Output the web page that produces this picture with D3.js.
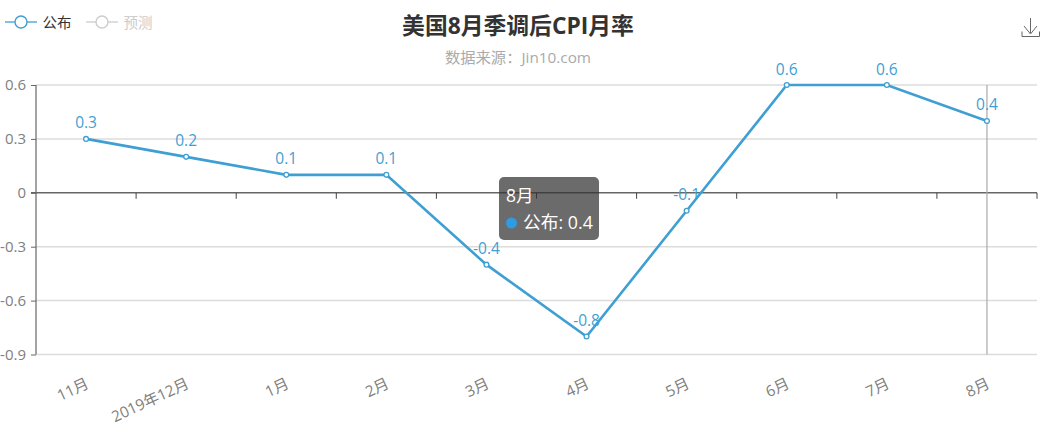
<!DOCTYPE html>
<html><head><meta charset="utf-8">
<script src="https://cdn.jsdelivr.net/npm/d3@7/dist/d3.min.js"></script>
<style>
html,body{margin:0;padding:0;background:#fff;overflow:hidden}
svg{display:block;font-family:"Open Sans","Noto Sans CJK SC",sans-serif}
</style></head><body>
<svg id="c" width="1044" height="426"></svg>
<script>
const categories=["11月","2019年12月","1月","2月","3月","4月","5月","6月","7月","8月"];
const published=[0.3,0.2,0.1,0.1,-0.4,-0.8,-0.1,0.6,0.6,0.4];
const yTicks=[0.6,0.3,0,-0.3,-0.6,-0.9];
const legendItems=["公布","预测"];
const blue="#3f9fd3";
const svg=d3.select("#c");
const x=d3.scaleBand().domain(categories).range([36,1037]);
const y=d3.scaleLinear().domain([-0.9,0.6]).range([354.5,85]);
const cx=c=>x(c)+x.bandwidth()/2;

// grid
svg.append("g").selectAll("line").data(yTicks.filter(d=>d!==0)).join("line")
  .attr("x1",36).attr("x2",1037).attr("y1",d=>y(d)).attr("y2",d=>y(d))
  .attr("stroke","#dcdcdc").attr("stroke-width",1.5);

// y axis
const yAxis=d3.axisLeft(y).tickValues(yTicks).tickSize(5).tickPadding(5).tickFormat(d=>d===0?"0":String(d.toFixed(1)));
const gy=svg.append("g").attr("transform","translate(36,0)").call(yAxis);
gy.select(".domain").attr("stroke","#666").attr("d",`M0,${y(0.6)}V${y(-0.9)}`).attr("stroke-width",1.2);
gy.selectAll(".tick line").attr("stroke","#666");
gy.selectAll("text").attr("fill","#808080").style("font-size","15px").style("font-family",'"Open Sans","Noto Sans CJK SC",sans-serif');

// zero-line x axis with boundary ticks
const zero=y(0);
const gx=svg.append("g");
gx.append("line").attr("x1",31).attr("x2",1037).attr("y1",zero).attr("y2",zero).attr("stroke","#666").attr("stroke-width",1.4);
gx.selectAll("line.t").data(categories).join("line").attr("class","t")
  .attr("x1",d=>x(d)+x.bandwidth()).attr("x2",d=>x(d)+x.bandwidth())
  .attr("y1",zero).attr("y2",zero+6).attr("stroke","#444");

// x labels
svg.append("g").selectAll("text").data(categories).join("text")
  .attr("text-anchor","end")
  .attr("transform",d=>`translate(${cx(d)},${379}) rotate(-25)`)
  .attr("dy","0.6em").attr("fill","#808080").style("font-size","15.3px").text(d=>d);

// hover guide
svg.append("line").attr("x1",cx("8月")).attr("x2",cx("8月")).attr("y1",85).attr("y2",354.5)
  .attr("stroke","#aaa").attr("stroke-width",1.2);

// series
const pts=categories.map((c,i)=>({c,v:published[i]}));
const line=d3.line().x(d=>cx(d.c)).y(d=>y(d.v));
svg.append("path").datum(pts).attr("d",line).attr("fill","none").attr("stroke",blue).attr("stroke-width",2.6);
svg.append("g").selectAll("circle").data(pts).join("circle")
  .attr("cx",d=>cx(d.c)).attr("cy",d=>y(d.v)).attr("r",2.4)
  .attr("fill","#fff").attr("stroke",blue).attr("stroke-width",1.3);
svg.append("g").selectAll("text").data(pts).join("text")
  .attr("x",d=>cx(d.c)).attr("y",d=>y(d.v)-10.5).attr("text-anchor","middle")
  .attr("fill",blue).style("font-size","15.5px").text(d=>d.v);

// title
svg.append("text").attr("x",518).attr("y",34).attr("text-anchor","middle")
  .attr("fill","#333").style("font-size","22.8px").style("font-weight","700").text("美国8月季调后CPI月率");
svg.append("text").attr("x",518).attr("y",63).attr("text-anchor","middle")
  .attr("fill","#aaa").style("font-size","15.3px").text("数据来源：Jin10.com");

// legend
const legendColors=[blue,"#ccc"];
const legendText=["#333","#ccc"];
const lg=svg.append("g").selectAll("g").data(legendItems).join("g")
  .attr("transform",(d,i)=>`translate(${5+i*81},22)`);
lg.append("line").attr("x1",0).attr("x2",32).attr("stroke",(d,i)=>legendColors[i]).attr("stroke-width",1.3);
lg.append("circle").attr("cx",16).attr("r",6).attr("fill","#fff").attr("stroke",(d,i)=>legendColors[i]).attr("stroke-width",1.4);
lg.append("text").attr("x",37.5).attr("y",6).attr("fill",(d,i)=>legendText[i]).style("font-size","14.5px").text(d=>d);

// download icon
const ic=svg.append("g").attr("fill","none").attr("stroke","#666").attr("stroke-width",1);
ic.append("path").attr("d","M1030.5,18V33M1024,26L1030.5,34L1037,26M1022,31.5V36.5H1039.5V31.5");

// tooltip
const tip=svg.append("g").attr("transform","translate(499,177)");
tip.append("rect").attr("width",100).attr("height",63).attr("rx",5).attr("fill","rgba(50,50,50,0.72)");
tip.append("text").attr("x",7).attr("y",25).attr("fill","#fff").style("font-size","17.5px").text(categories[9]);
tip.append("circle").attr("cx",12.5).attr("cy",46).attr("r",5.5).attr("fill","#2f9be0");
tip.append("text").attr("x",24).attr("y",52).attr("fill","#fff").style("font-size","17.8px").text("公布: "+published[9]);
</script>
</body></html>
